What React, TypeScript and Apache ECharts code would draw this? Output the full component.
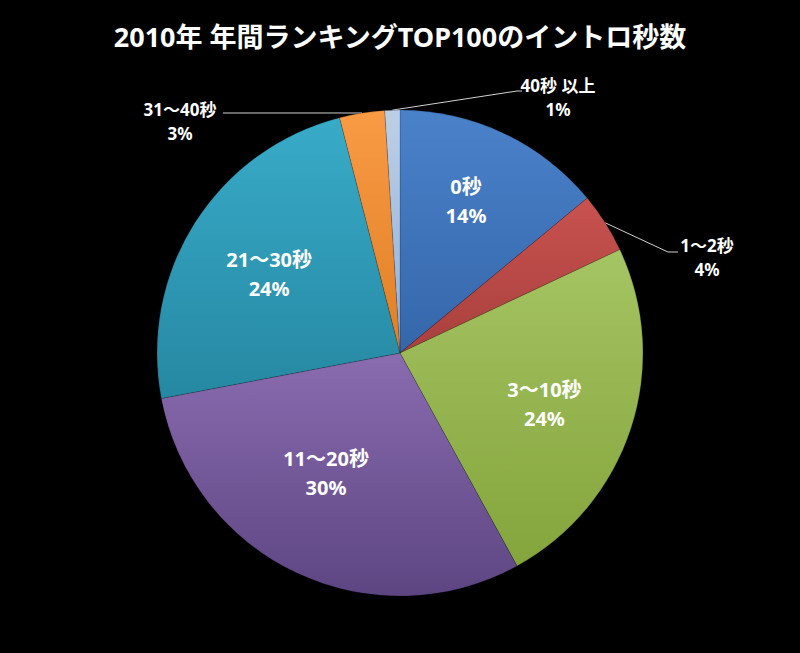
import React, { useEffect, useRef } from "react";
import * as echarts from "echarts";

const TITLE = "2010年 年間ランキングTOP100のイントロ秒数";
const categories = ["0秒", "1～2秒", "3～10秒", "11～20秒", "21～30秒", "31～40秒", "40秒 以上"];
const values = [14, 4, 24, 30, 24, 3, 1];
const insideLabel = [true, false, true, true, true, false, false];

// styles (not data)
const gradTop = ["#4a82ca", "#c9524f", "#a5c463", "#8a6cb0", "#38abc9", "#f99a45", "#bccfe6"];
const gradBottom = ["#3566aa", "#a8403d", "#84a43c", "#5d4582", "#2688a2", "#e07f25", "#93b1d6"];
const insideShift: [number, number][] = [[0, -12], [0, 0], [-3, 3], [-8, -20], [0, 4], [0, 0], [0, 0]];
const outsidePos: Record<number, { x: number; y: number; line: number[][] }> = {
  1: { x: 707, y: 257, line: [[668, 252], [678, 252]] },
  5: { x: 180, y: 121, line: [[223, 113]] },
  6: { x: 558, y: 97, line: [[517, 91], [522, 91]] },
};

const FONT = "'Noto Sans', 'Noto Sans CJK JP', sans-serif";

export default function App() {
  const ref = useRef<HTMLDivElement>(null);
  useEffect(() => {
    document.body.style.margin = "0";
    document.body.style.background = "#000";
    const chart = echarts.init(ref.current!, null, { renderer: "svg" });
    const center = ["50%", 353];
    const mainData = categories.map((name, i) => ({
      name,
      value: values[i],
      itemStyle: {
        color: new echarts.graphic.LinearGradient(0, 0, 0, 1, [
          { offset: 0, color: gradTop[i] },
          { offset: 1, color: gradBottom[i] },
        ]),
      },
      label: { show: !insideLabel[i] },
      labelLine: { show: !insideLabel[i] },
    }));
    const ringData = categories.map((name, i) => ({
      name,
      value: values[i],
      label: { show: insideLabel[i] },
    }));
    chart.setOption({
      animation: false,
      backgroundColor: "#000",
      title: {
        text: TITLE,
        left: "center",
        top: 18,
        textStyle: { color: "#fff", fontSize: 27, fontWeight: "bold", fontFamily: FONT },
      },
      series: [
        {
          type: "pie",
          center,
          radius: 243,
          startAngle: 90,
          clockwise: true,
          silent: true,
          avoidLabelOverlap: false,
          itemStyle: { borderColor: "rgba(0,0,0,0.25)", borderWidth: 0.6 },
          label: {
            position: "outside",
            formatter: (p: any) => `${p.name}\n${p.value}%`,
            color: "#fff",
            fontSize: 17,
            fontWeight: "bold",
            fontFamily: FONT,
            lineHeight: 24,
          },
          labelLine: { lineStyle: { color: "#d0d0d0", width: 1 }, length: 10, length2: 10 },
          labelLayout: (params: any) => {
            const o = outsidePos[params.dataIndex];
            if (!o) return {};
            const p0 = params.labelLinePoints ? params.labelLinePoints[0] : o.line[0];
            return {
              x: o.x,
              y: o.y,
              align: "center",
              verticalAlign: "middle",
              labelLinePoints: [p0, ...o.line],
            };
          },
          data: mainData,
        },
        {
          type: "pie",
          center,
          radius: [128, 176],
          startAngle: 90,
          clockwise: true,
          silent: true,
          itemStyle: { color: "rgba(0,0,0,0)" },
          label: {
            position: "inside",
            formatter: (p: any) => `${p.name}\n${p.value}%`,
            color: "#fff",
            fontSize: 20,
            fontWeight: "bold",
            fontFamily: FONT,
            lineHeight: 29,
          },
          labelLine: { show: false },
          labelLayout: (params: any) => {
            const s = insideShift[params.dataIndex];
            return { dx: s[0], dy: s[1] };
          },
          data: ringData,
        },
      ],
    });
    return () => chart.dispose();
  }, []);
  return <div ref={ref} style={{ width: 800, height: 653, background: "#000" }} />;
}
